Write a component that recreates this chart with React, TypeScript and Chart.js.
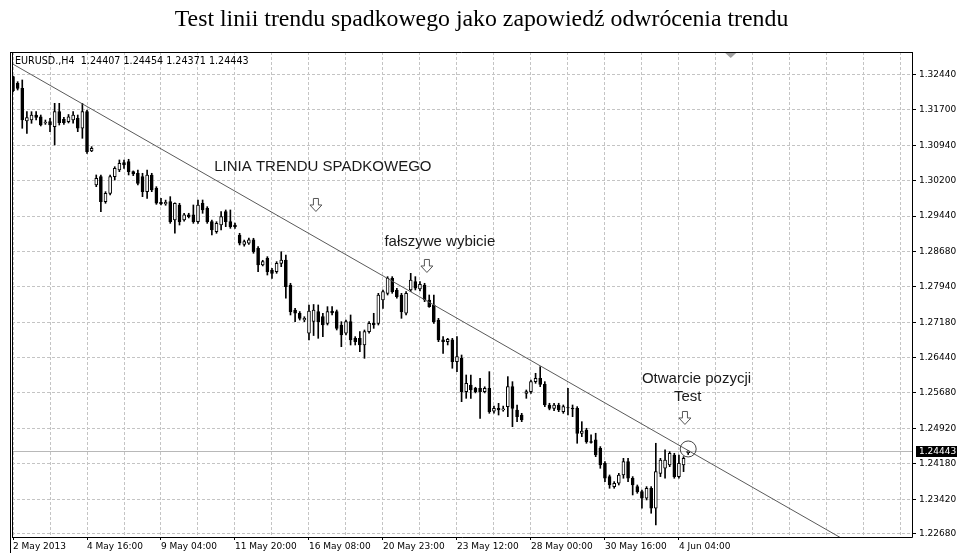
import { useEffect, useRef } from 'react';
import { Chart, registerables } from 'chart.js';

Chart.register(...registerables);

const TITLE = 'Test linii trendu spadkowego jako zapowiedź odwrócenia trendu';
const HEADER = 'EURUSD.,H4  1.24407 1.24454 1.24371 1.24443';

const opens = [
  1.32404, 1.32263, 1.32157, 1.31462, 1.31483, 1.31589, 1.31553, 1.31420, 1.31447, 1.31341,
  1.31660, 1.31497, 1.31447, 1.31483, 1.31519, 1.31307, 1.31660, 1.30824, 1.30101, 1.30278,
  1.29746, 1.29924, 1.30278, 1.30420, 1.30576, 1.30597, 1.30384, 1.30350, 1.30278, 1.29959,
  1.30314, 1.30031, 1.29732, 1.29697, 1.29746, 1.29357, 1.29676, 1.29357, 1.29464, 1.29464,
  1.29321, 1.29712, 1.29606, 1.29321, 1.29109, 1.29251, 1.29534, 1.29321, 1.29250, 1.29038,
  1.28840, 1.28862, 1.28933, 1.28755, 1.28400, 1.28542, 1.28294, 1.28258, 1.28436, 1.28506,
  1.27975, 1.27443, 1.27373, 1.27230, 1.26950, 1.27200, 1.27407, 1.27301, 1.27160, 1.27420,
  1.27407, 1.27124, 1.26948, 1.27195, 1.26841, 1.26841, 1.26699, 1.26983, 1.27160, 1.27160,
  1.27655, 1.27798, 1.28116, 1.27869, 1.27762, 1.27373, 1.27869, 1.28045, 1.27890, 1.27975,
  1.27656, 1.27550, 1.27230, 1.26806, 1.26770, 1.26806, 1.26344, 1.26416, 1.25706, 1.25848,
  1.25777, 1.25777, 1.25706, 1.25777, 1.25290, 1.25352, 1.25317, 1.25388, 1.25813, 1.25317,
  1.25210, 1.25671, 1.25706, 1.25919, 1.25990, 1.25863, 1.25423, 1.25352, 1.25423, 1.25281,
  1.25370, 1.25360, 1.25352, 1.24820, 1.24892, 1.24645, 1.24680, 1.24503, 1.24183, 1.23900,
  1.23687, 1.23758, 1.23935, 1.24218, 1.23865, 1.23687, 1.23581, 1.23440, 1.23652, 1.23227,
  1.23970, 1.24077, 1.24148, 1.24360, 1.23900, 1.24148, 1.24407,
];

const highs = [
  1.32419, 1.32298, 1.32334, 1.31660, 1.31660, 1.31660, 1.31589, 1.31483, 1.31519, 1.31838,
  1.31838, 1.31540, 1.31600, 1.31660, 1.31589, 1.31838, 1.31696, 1.30916, 1.30314, 1.30314,
  1.29959, 1.30314, 1.30490, 1.30633, 1.30633, 1.30648, 1.30400, 1.30420, 1.30350, 1.30420,
  1.30350, 1.30065, 1.29818, 1.29780, 1.29853, 1.29720, 1.29712, 1.29500, 1.29500, 1.29676,
  1.29782, 1.29782, 1.29640, 1.29357, 1.29321, 1.29534, 1.29570, 1.29570, 1.29290, 1.29074,
  1.28930, 1.28970, 1.28968, 1.28790, 1.28500, 1.28577, 1.28329, 1.28471, 1.28683, 1.28613,
  1.28011, 1.27479, 1.27410, 1.27300, 1.27550, 1.27560, 1.27550, 1.27373, 1.27514, 1.27514,
  1.27443, 1.27195, 1.27230, 1.27337, 1.26876, 1.26983, 1.27018, 1.27195, 1.27373, 1.27798,
  1.27869, 1.28152, 1.28152, 1.27905, 1.27798, 1.27833, 1.28223, 1.28152, 1.28045, 1.28011,
  1.27762, 1.27762, 1.27266, 1.26876, 1.26841, 1.26841, 1.26876, 1.26486, 1.26061, 1.26061,
  1.25800, 1.25990, 1.25810, 1.26132, 1.25400, 1.25459, 1.25400, 1.26026, 1.25919, 1.25423,
  1.25246, 1.25742, 1.25955, 1.26097, 1.26238, 1.25919, 1.25460, 1.25460, 1.25460, 1.25423,
  1.25777, 1.25423, 1.25388, 1.25068, 1.24928, 1.24786, 1.24822, 1.24538, 1.24218, 1.23935,
  1.23793, 1.23970, 1.24289, 1.24289, 1.23900, 1.23722, 1.23616, 1.23687, 1.23687, 1.24609,
  1.24289, 1.24467, 1.24431, 1.24396, 1.24360, 1.24324, 1.24454,
];

const lows = [
  1.32085, 1.32121, 1.31307, 1.31200, 1.31413, 1.31483, 1.31356, 1.31390, 1.31235, 1.30952,
  1.31377, 1.31390, 1.31420, 1.31413, 1.31235, 1.31094, 1.30774, 1.30809, 1.30065, 1.29533,
  1.29712, 1.29888, 1.30207, 1.30384, 1.30456, 1.30314, 1.30300, 1.30101, 1.29853, 1.29818,
  1.29959, 1.29690, 1.29676, 1.29670, 1.29286, 1.29074, 1.29250, 1.29330, 1.29400, 1.29286,
  1.29286, 1.29499, 1.29286, 1.29038, 1.29074, 1.29145, 1.29215, 1.29180, 1.29180, 1.28826,
  1.28800, 1.28840, 1.28649, 1.28258, 1.28380, 1.28187, 1.28117, 1.28223, 1.28364, 1.27692,
  1.27337, 1.27195, 1.27230, 1.27195, 1.26806, 1.26900, 1.26841, 1.26876, 1.27124, 1.27337,
  1.27018, 1.26663, 1.26912, 1.26699, 1.26699, 1.26557, 1.26416, 1.26948, 1.27053, 1.27124,
  1.27479, 1.27762, 1.27798, 1.27692, 1.27266, 1.27337, 1.27833, 1.27869, 1.27850, 1.27620,
  1.27500, 1.27160, 1.26770, 1.26522, 1.26700, 1.26204, 1.26132, 1.25493, 1.25565, 1.25565,
  1.25680, 1.25140, 1.25680, 1.25246, 1.25250, 1.25210, 1.25290, 1.25175, 1.24962, 1.25068,
  1.25068, 1.25565, 1.25671, 1.25884, 1.25813, 1.25388, 1.25320, 1.25300, 1.25281, 1.25246,
  1.25210, 1.25175, 1.24609, 1.24750, 1.24609, 1.24609, 1.24324, 1.24077, 1.23793, 1.23652,
  1.23652, 1.23722, 1.23865, 1.23793, 1.23510, 1.23546, 1.23227, 1.23404, 1.23121, 1.22873,
  1.23900, 1.23865, 1.24112, 1.23865, 1.23865, 1.24006, 1.24371,
];

const closes = [
  1.32106, 1.32157, 1.31483, 1.31533, 1.31589, 1.31540, 1.31377, 1.31440, 1.31377, 1.31660,
  1.31426, 1.31426, 1.31553, 1.31589, 1.31307, 1.31660, 1.30809, 1.30881, 1.30243, 1.29746,
  1.29924, 1.30278, 1.30456, 1.30563, 1.30526, 1.30384, 1.30335, 1.30137, 1.29959, 1.30314,
  1.29995, 1.29712, 1.29697, 1.29732, 1.29321, 1.29712, 1.29321, 1.29464, 1.29430, 1.29321,
  1.29676, 1.29570, 1.29321, 1.29145, 1.29286, 1.29428, 1.29321, 1.29215, 1.29215, 1.28862,
  1.28897, 1.28933, 1.28685, 1.28400, 1.28471, 1.28258, 1.28223, 1.28436, 1.28506, 1.27939,
  1.27407, 1.27373, 1.27266, 1.27266, 1.27420, 1.27440, 1.27195, 1.27124, 1.27407, 1.27380,
  1.27053, 1.26912, 1.27195, 1.26806, 1.26770, 1.26699, 1.26983, 1.27160, 1.27124, 1.27762,
  1.27833, 1.28116, 1.27833, 1.27727, 1.27407, 1.27798, 1.28081, 1.27905, 1.27990, 1.27656,
  1.27514, 1.27195, 1.26806, 1.26770, 1.26820, 1.26344, 1.26451, 1.25706, 1.25884, 1.25742,
  1.25706, 1.25706, 1.25777, 1.25281, 1.25352, 1.25317, 1.25340, 1.25813, 1.25352, 1.25175,
  1.25104, 1.25707, 1.25919, 1.25990, 1.25863, 1.25423, 1.25352, 1.25423, 1.25317, 1.25388,
  1.25360, 1.25340, 1.24820, 1.24870, 1.24645, 1.24625, 1.24360, 1.24148, 1.23865, 1.23722,
  1.23758, 1.23935, 1.24218, 1.23865, 1.23722, 1.23581, 1.23440, 1.23652, 1.23227, 1.24006,
  1.24254, 1.24254, 1.24396, 1.23900, 1.24183, 1.24289, 1.24443,
];

const dateLabels = [
  '2 May 2013', '4 May 16:00', '9 May 04:00', '11 May 20:00', '16 May 08:00',
  '20 May 23:00', '23 May 12:00', '28 May 00:00', '30 May 16:00', '4 Jun 04:00',
];
const labelStep = 16;
const gridStep = 8;

const priceTicks = [
  1.3244, 1.317, 1.3094, 1.302, 1.2944, 1.2868, 1.2794, 1.2718, 1.2644, 1.2568,
  1.2492, 1.2418, 1.2342, 1.2268,
];
const yMin = 1.22616;
const yMax = 1.32929;
const xMin = -0.22;
const xMax = 194.4;

const trendLine = [
  { x: 0, y: 1.3267 },
  { x: 182, y: 1.2243 },
];

const annotations = [
  { kind: 'text', text: 'LINIA TRENDU SPADKOWEGO', x: 67.0, y: 1.30484 },
  { kind: 'arrow', text: '', x: 65.5, y: 1.29676 },
  { kind: 'text', text: 'fałszywe wybicie', x: 92.3, y: 1.28889 },
  { kind: 'arrow', text: '', x: 89.5, y: 1.28379 },
  { kind: 'text', text: 'Otwarcie pozycji', x: 147.8, y: 1.25976 },
  { kind: 'text', text: 'Test', x: 145.9, y: 1.25593 },
  { kind: 'arrow', text: '', x: 145.3, y: 1.25147 },
  { kind: 'circle', text: '', x: 146, y: 1.24488 },
];
const shiftMarkerIndex = 155.2;

const AXIS_FONT = '9px "DejaVu Sans"';

const decorPlugin = {
  id: 'decor',
  beforeDatasetsDraw(chart: any) {
    const { ctx, chartArea: a, scales } = chart;
    const y = scales.y;
    const last = closes[closes.length - 1];
    const py = Math.round(y.getPixelForValue(last)) + 0.5;
    ctx.save();
    ctx.strokeStyle = '#b8b8b8';
    ctx.lineWidth = 1;
    ctx.beginPath();
    ctx.moveTo(a.left, py);
    ctx.lineTo(a.right, py);
    ctx.stroke();
    ctx.restore();
  },
  afterDraw(chart: any) {
    const { ctx, chartArea: a, scales, width, height } = chart;
    const xs = scales.x;
    const ys = scales.y;
    ctx.save();

    // title
    ctx.fillStyle = '#000';
    ctx.font = '23.8px "Liberation Serif"';
    ctx.textAlign = 'center';
    ctx.textBaseline = 'middle';
    ctx.fillText(TITLE, width / 2 + 3, 20);

    // frame
    ctx.strokeStyle = '#000';
    ctx.lineWidth = 1;
    ctx.beginPath();
    ctx.moveTo(a.left - 2, a.top + 0.5);
    ctx.lineTo(a.right + 0.5, a.top + 0.5);
    ctx.moveTo(a.left - 1.5, a.top);
    ctx.lineTo(a.left - 1.5, height);
    ctx.moveTo(a.left + 0.5, a.top);
    ctx.lineTo(a.left + 0.5, a.bottom + 0.5);
    ctx.moveTo(a.right + 0.5, a.top);
    ctx.lineTo(a.right + 0.5, a.bottom + 0.5);
    ctx.moveTo(a.left, a.bottom + 0.5);
    ctx.lineTo(a.right + 0.5, a.bottom + 0.5);
    ctx.stroke();

    // header
    ctx.font = '9.6px "DejaVu Sans"';
    ctx.textAlign = 'left';
    ctx.textBaseline = 'middle';
    ctx.fillStyle = '#000';
    ctx.fillText(HEADER, a.left + 3, a.top + 9.5);

    // shift marker
    const sx = xs.getPixelForValue(shiftMarkerIndex);
    ctx.fillStyle = '#a0a0a0';
    ctx.beginPath();
    ctx.moveTo(sx - 5.5, a.top + 1);
    ctx.lineTo(sx + 5.5, a.top + 1);
    ctx.lineTo(sx, a.top + 6);
    ctx.closePath();
    ctx.fill();

    // annotations
    for (const an of annotations) {
      const cx = xs.getPixelForValue(an.x);
      const cy = ys.getPixelForValue(an.y);
      if (an.kind === 'text') {
        ctx.font = '15px "Liberation Sans"';
        ctx.fillStyle = '#1a1a1a';
        ctx.textAlign = 'center';
        ctx.textBaseline = 'middle';
        ctx.fillText(an.text, cx, cy);
      } else if (an.kind === 'arrow') {
        ctx.beginPath();
        ctx.moveTo(cx - 2.5, cy - 6.5);
        ctx.lineTo(cx + 2.5, cy - 6.5);
        ctx.lineTo(cx + 2.5, cy);
        ctx.lineTo(cx + 6, cy);
        ctx.lineTo(cx, cy + 6.5);
        ctx.lineTo(cx - 6, cy);
        ctx.lineTo(cx - 2.5, cy);
        ctx.closePath();
        ctx.fillStyle = '#fff';
        ctx.fill();
        ctx.strokeStyle = '#555';
        ctx.lineWidth = 1;
        ctx.stroke();
      } else if (an.kind === 'circle') {
        ctx.beginPath();
        ctx.arc(cx, cy, 8, 0, Math.PI * 2);
        ctx.strokeStyle = '#444';
        ctx.lineWidth = 1;
        ctx.stroke();
      }
    }

    // current price box
    const last = closes[closes.length - 1];
    const py = Math.round(ys.getPixelForValue(last));
    ctx.fillStyle = '#000';
    ctx.fillRect(a.right + 4, py - 5, width - a.right - 4, 11);
    ctx.fillStyle = '#fff';
    ctx.font = AXIS_FONT;
    ctx.textAlign = 'left';
    ctx.textBaseline = 'middle';
    ctx.fillText(last.toFixed(5), a.right + 7, py + 0.5);

    ctx.restore();
  },
};

export default function App() {
  const ref = useRef<HTMLCanvasElement>(null);

  useEffect(() => {
    const canvas = ref.current;
    if (!canvas) return;
    const bodies = opens.map((o, i) => ({ x: i, y: [o, closes[i]] }));
    const wicks = lows.map((l, i) => ({ x: i, y: [l, highs[i]] }));

    const chart = new Chart(canvas, {
      type: 'bar',
      data: {
        datasets: [
          {
            type: 'line',
            label: 'trend',
            data: trendLine as any,
            borderColor: '#5a5a5a',
            borderWidth: 1,
            pointRadius: 0,
            order: -1,
          } as any,
          {
            type: 'bar',
            label: 'body',
            data: bodies as any,
            backgroundColor: (c: any) =>
              closes[c.dataIndex] >= opens[c.dataIndex] ? '#ffffff' : '#000000',
            borderColor: '#000',
            borderWidth: 1,
            borderSkipped: false,
            barThickness: 3,
            grouped: false,
            order: 0,
          } as any,
          {
            type: 'bar',
            label: 'wick',
            data: wicks as any,
            backgroundColor: '#000',
            borderWidth: 0,
            barThickness: 1,
            grouped: false,
            order: 1,
          } as any,
        ],
      },
      options: {
        animation: false,
        responsive: true,
        maintainAspectRatio: false,
        events: [],
        layout: { padding: { left: 12, top: 52, right: 0, bottom: 0 } },
        plugins: {
          legend: { display: false },
          tooltip: { enabled: false },
          title: { display: false },
        },
        scales: {
          x: {
            type: 'linear',
            min: xMin,
            max: xMax,
            offset: false,
            afterBuildTicks: (s: any) => {
              const t: any[] = [];
              for (let v = 0; v <= xMax; v += gridStep) t.push({ value: v });
              s.ticks = t;
            },
            afterFit: (s: any) => {
              s.height = 16;
            },
            grid: {
              color: '#c4c4c4',
              lineWidth: 1,
              offset: false,
              drawTicks: true,
              tickLength: 3,
              tickColor: (c: any) =>
                c.tick && c.tick.value % labelStep === 0 && c.tick.value / labelStep < dateLabels.length
                  ? '#000'
                  : 'rgba(0,0,0,0)',
            },
            border: { display: false, dash: [3, 2] },
            ticks: {
              autoSkip: false,
              maxRotation: 0,
              minRotation: 0,
              align: 'start',
              padding: 1,
              color: '#000',
              font: { family: 'DejaVu Sans', size: 9 },
              callback: (v: any) => {
                const n = Number(v);
                if (n % labelStep !== 0) return '';
                const k = n / labelStep;
                return k < dateLabels.length ? dateLabels[k] : '';
              },
            },
          } as any,
          y: {
            type: 'linear',
            position: 'right',
            min: yMin,
            max: yMax,
            afterBuildTicks: (s: any) => {
              s.ticks = priceTicks.map((v) => ({ value: v }));
            },
            afterFit: (s: any) => {
              s.width = 45;
            },
            grid: {
              color: '#c4c4c4',
              lineWidth: 1,
              drawTicks: true,
              tickLength: 4,
              tickColor: '#000',
            },
            border: { display: false, dash: [3, 2] },
            ticks: {
              autoSkip: false,
              padding: 3,
              color: '#000',
              font: { family: 'DejaVu Sans', size: 9 },
              callback: (v: any) => Number(v).toFixed(5),
            },
          } as any,
        },
      },
      plugins: [decorPlugin],
    } as any);

    return () => chart.destroy();
  }, []);

  return (
    <div style={{ position: 'fixed', left: 0, top: 0, width: 957, height: 553, background: '#fff' }}>
      <canvas ref={ref} />
    </div>
  );
}
